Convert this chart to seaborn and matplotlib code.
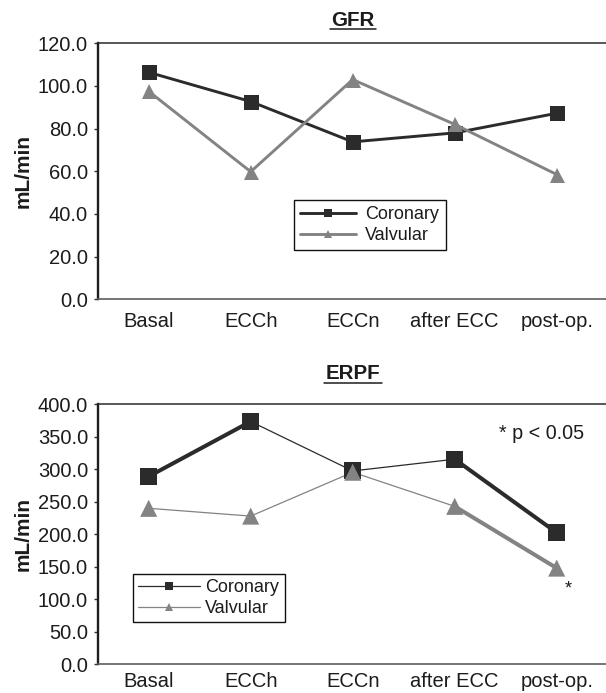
import numpy as np
import pandas as pd
import matplotlib
matplotlib.use("Agg")
import matplotlib.pyplot as plt
import seaborn as sns
from matplotlib.lines import Line2D

# ---------------- data ----------------
stages = ["Basal", "ECCh", "ECCn", "after ECC", "post-op."]
groups = ["Coronary", "Valvular"]

gfr_coronary = [106.4, 92.7, 73.8, 78.0, 87.2]
gfr_valvular = [97.5, 59.8, 103.0, 82.0, 58.5]

erpf_coronary = [289.0, 373.5, 297.5, 315.5, 202.5]
erpf_valvular = [240.0, 228.0, 295.5, 243.0, 148.0]

gfr_ticks = [0, 20, 40, 60, 80, 100, 120]
erpf_ticks = [0, 50, 100, 150, 200, 250, 300, 350, 400]

titles = ["GFR", "ERPF"]
ylabel = "mL/min"
sig_note = "* p < 0.05"
sig_mark = "*"

# ---------------- style ----------------
sns.set_style("white")
plt.rcParams["font.family"] = ["Liberation Sans", "DejaVu Sans"]

DARK = "#2b2b2b"
GRAY = "#838383"
palette = {"Coronary": DARK, "Valvular": GRAY}
markers = {"Coronary": "s", "Valvular": "^"}
TXT = "#1c1c1c"

# segment widths for ERPF panel (style only)
erpf_seg_lw = {"Coronary": [2.9, 0.9, 0.9, 2.9], "Valvular": [0.9, 0.9, 0.9, 2.9]}


def make_df(cor, val):
    rows = []
    for g, vals in zip(groups, [cor, val]):
        for i, (s, v) in enumerate(zip(stages, vals)):
            rows.append({"stage": s, "pos": i, "value": v, "group": g})
    return pd.DataFrame(rows)


df_gfr = make_df(gfr_coronary, gfr_valvular)
df_erpf = make_df(erpf_coronary, erpf_valvular)

W, H = 606, 693
fig = plt.figure(figsize=(W / 100, H / 100), dpi=100)

ax1 = fig.add_axes([97.7 / W, (H - 299.3) / H, 510 / W, 256 / H])
ax2 = fig.add_axes([97.7 / W, (H - 664.3) / H, 510 / W, 260 / H])

# ---- GFR panel ----
sns.lineplot(data=df_gfr, x="pos", y="value", hue="group", style="group",
             hue_order=groups, style_order=groups,
             markers=markers, dashes=False, palette=palette,
             markersize=10.8, markeredgewidth=0, linewidth=2.1,
             estimator=None, sort=False, legend=False, ax=ax1)

# ---- ERPF panel ----
for g in groups:
    sub = df_erpf[df_erpf["group"] == g].reset_index(drop=True)
    for i in range(len(sub) - 1):
        seg = sub.iloc[i:i + 2]
        sns.lineplot(data=seg, x="pos", y="value", color=palette[g],
                     linewidth=erpf_seg_lw[g][i], estimator=None, sort=False,
                     legend=False, ax=ax2, zorder=2)
sns.scatterplot(data=df_erpf, x="pos", y="value", hue="group", style="group",
                hue_order=groups, style_order=groups, markers=markers,
                palette=palette, s=12.3 ** 2, linewidth=0, legend=False,
                ax=ax2, zorder=3)

# ---- axes styling ----
for ax, ticks, xpad in [(ax1, gfr_ticks, 9), (ax2, erpf_ticks, 5.8)]:
    ax.set_xlim(-0.5, 4.5)
    ax.set_ylim(ticks[0], ticks[-1])
    ax.set_yticks(ticks)
    ax.set_yticklabels([f"{t:.1f}" for t in ticks])
    ax.set_xticks(range(len(stages)))
    ax.set_xticklabels(stages)
    ax.set_xlabel("")
    ax.set_ylabel(ylabel, fontsize=15, fontweight="bold", color=TXT)
    ax.yaxis.set_label_coords(-0.127, 0.5)
    ax.tick_params(axis="y", direction="out", length=3, width=1.0,
                   color="#333333", labelsize=14.5, labelcolor=TXT, pad=4,
                   left=True)
    ax.tick_params(axis="x", length=0, labelsize=14.5, labelcolor=TXT,
                   pad=xpad)
    ax.spines["right"].set_visible(False)
    ax.spines["left"].set_color("#1e1e1e")
    ax.spines["left"].set_linewidth(1.7)
    ax.spines["top"].set_color("#2a2a2a")
    ax.spines["top"].set_linewidth(1.1)
    ax.spines["bottom"].set_color("#5e5e5e")
    ax.spines["bottom"].set_linewidth(1.2)
    ax.grid(False)

# ---- annotations ----
ax2.text(3.436, 346, sig_note, fontsize=14.2, color=TXT, ha="left",
         va="baseline")
ax2.text(4.113, 109, sig_mark, fontsize=13, color=TXT, ha="center",
         va="baseline")

# ---- titles with underline ----
title_texts = []
for ax, t, yb in [(ax1, titles[0], (299.3 - 26.0) / 256),
                  (ax2, titles[1], (664.3 - 379.3) / 260)]:
    tx = ax.text(0.5, yb, t, transform=ax.transAxes, ha="center",
                 va="baseline", fontsize=14.8, fontweight="bold", color=TXT)
    title_texts.append((ax, tx, yb))

# ---- legends ----
def handles(lw):
    return [Line2D([], [], color=palette[g], lw=lw, marker=markers[g],
                   markersize=5.5, markeredgewidth=0) for g in groups]

leg1 = ax1.legend(handles=handles(2.1), labels=groups, loc="upper left",
                  bbox_to_anchor=(294 / W, 1 - 200 / H),
                  bbox_transform=fig.transFigure, borderaxespad=0,
                  fontsize=13, frameon=True, fancybox=False, framealpha=1,
                  edgecolor="#111111", handlelength=3.1, handletextpad=0.5,
                  labelspacing=0.2, borderpad=0.35)
leg1.get_frame().set_linewidth(1.0)
for t in leg1.get_texts():
    t.set_color(TXT)

leg2 = ax2.legend(handles=handles(0.9), labels=groups, loc="upper left",
                  bbox_to_anchor=(133 / W, 1 - 574 / H),
                  bbox_transform=fig.transFigure, borderaxespad=0,
                  fontsize=13, frameon=True, fancybox=False, framealpha=1,
                  edgecolor="#111111", handlelength=3.4, handletextpad=0.3,
                  labelspacing=0.2, borderpad=0.3)
leg2.get_frame().set_linewidth(1.0)
for t in leg2.get_texts():
    t.set_color(TXT)

fig.canvas.draw()
renderer = fig.canvas.get_renderer()
for ax, tx, yb in title_texts:
    bb = tx.get_window_extent(renderer)
    _, ybase = ax.transAxes.transform((0.5, yb))
    yline = (ybase - 3.3) / H
    fig.add_artist(Line2D([(bb.x0 - 1.5) / W, (bb.x1 + 1.5) / W],
                          [yline, yline], transform=fig.transFigure,
                          color=TXT, lw=1.1))

fig.savefig("out.png", dpi=100)
